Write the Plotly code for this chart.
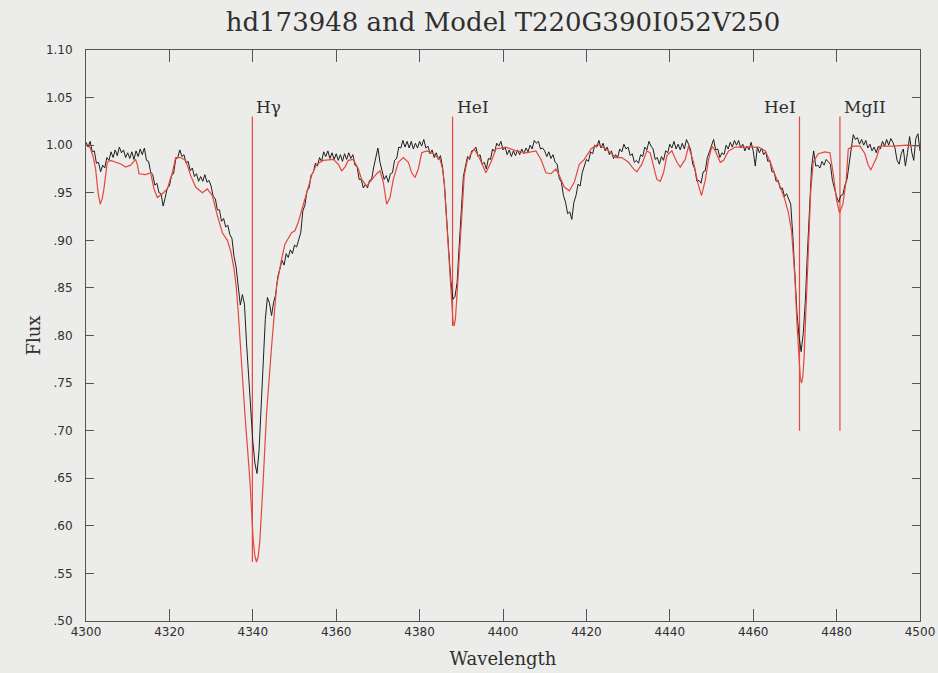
import numpy as np
import plotly.graph_objects as go

# ---------------- data ----------------
# observed spectrum, sampled every 0.5 A from 4300 to 4500
obs_start = 4300.0
obs_step = 0.5
obs_flux = [
    1.003, 0.998, 1.004, 0.993, 0.994, 0.981, 0.982, 0.972, 0.979, 0.976, 0.987, 0.984, 0.993, 0.987, 0.995, 0.989, 0.998, 0.992, 0.995, 0.987,
    0.992, 0.986, 0.993, 0.985, 0.994, 0.988, 0.996, 0.990, 0.997, 0.984, 0.983, 0.972, 0.969, 0.958, 0.960, 0.950, 0.949, 0.936, 0.945, 0.955,
    0.957, 0.968, 0.970, 0.985, 0.987, 0.995, 0.988, 0.990, 0.981, 0.983, 0.973, 0.976, 0.967, 0.970, 0.962, 0.967, 0.962, 0.969, 0.961, 0.963,
    0.957, 0.946, 0.944, 0.932, 0.932, 0.920, 0.923, 0.914, 0.916, 0.906, 0.902, 0.883, 0.872, 0.849, 0.832, 0.843, 0.833, 0.792, 0.753, 0.723,
    0.689, 0.666, 0.655, 0.679, 0.724, 0.772, 0.817, 0.840, 0.834, 0.821, 0.835, 0.843, 0.862, 0.870, 0.879, 0.874, 0.886, 0.882, 0.890, 0.886,
    0.895, 0.893, 0.902, 0.908, 0.931, 0.937, 0.952, 0.955, 0.969, 0.971, 0.981, 0.978, 0.987, 0.983, 0.993, 0.988, 0.994, 0.986, 0.992, 0.985,
    0.991, 0.984, 0.990, 0.983, 0.991, 0.985, 0.992, 0.986, 0.990, 0.979, 0.978, 0.964, 0.964, 0.955, 0.959, 0.955, 0.963, 0.964, 0.977, 0.986,
    0.997, 0.982, 0.974, 0.964, 0.968, 0.961, 0.970, 0.971, 0.984, 0.986, 0.998, 0.997, 1.005, 0.998, 1.004, 0.997, 1.004, 0.996, 1.002, 0.997,
    1.004, 0.999, 1.006, 0.997, 0.999, 0.991, 0.995, 0.987, 0.992, 0.985, 0.989, 0.977, 0.956, 0.918, 0.888, 0.858, 0.838, 0.841, 0.856, 0.895,
    0.933, 0.967, 0.978, 0.988, 0.985, 0.994, 0.995, 0.998, 0.988, 0.990, 0.980, 0.982, 0.975, 0.986, 0.985, 0.996, 0.993, 1.002, 0.999, 1.004,
    0.995, 0.998, 0.990, 0.995, 0.988, 0.994, 0.989, 0.995, 0.990, 0.996, 0.991, 0.997, 0.993, 1.000, 0.996, 1.005, 1.002, 1.004, 0.996, 0.997,
    0.994, 0.988, 0.993, 0.986, 0.990, 0.982, 0.980, 0.965, 0.961, 0.947, 0.940, 0.928, 0.930, 0.922, 0.940, 0.947, 0.959, 0.957, 0.971, 0.978,
    0.985, 0.983, 0.993, 0.991, 1.000, 0.998, 1.005, 0.997, 1.002, 0.994, 0.998, 0.990, 0.994, 0.986, 0.990, 0.987, 0.996, 0.993, 1.001, 0.996,
    0.998, 0.989, 0.991, 0.982, 0.984, 0.981, 0.990, 0.988, 0.998, 0.995, 1.004, 0.999, 0.996, 0.985, 0.987, 0.980, 0.988, 0.984, 0.994, 0.992,
    1.001, 0.997, 1.004, 0.996, 1.001, 0.995, 1.002, 0.996, 1.006, 1.001, 0.995, 0.980, 0.975, 0.962, 0.963, 0.960, 0.972, 0.973, 0.987, 0.993,
    0.999, 1.006, 0.995, 0.996, 0.987, 0.992, 0.990, 1.000, 0.996, 1.003, 0.998, 1.005, 1.000, 1.005, 0.997, 1.001, 0.994, 0.999, 0.995, 1.003,
    0.994, 0.978, 0.998, 0.992, 0.997, 0.990, 0.993, 0.983, 0.984, 0.972, 0.972, 0.962, 0.963, 0.954, 0.955, 0.946, 0.949, 0.944, 0.938, 0.905,
    0.866, 0.823, 0.799, 0.783, 0.802, 0.836, 0.887, 0.933, 0.977, 0.994, 0.978, 0.979, 0.976, 0.983, 0.979, 0.985, 0.982, 0.980, 0.963, 0.953,
    0.946, 0.940, 0.947, 0.948, 0.958, 0.964, 0.982, 0.996, 1.011, 1.006, 1.008, 1.001, 1.006, 1.000, 1.005, 0.997, 1.001, 0.994, 0.998, 0.992,
    0.999, 0.996, 1.004, 0.999, 1.006, 1.000, 1.007, 1.003, 0.997, 0.984, 0.980, 0.991, 0.996, 0.978, 0.992, 1.009, 0.993, 0.984, 1.007, 1.012, 0.994,
]

# model spectrum
model_wl = [
    4300.0, 4300.5, 4301.1, 4301.7, 4302.3, 4302.9, 4303.4, 4303.9, 4304.3, 4304.7,
    4305.1, 4305.9, 4306.7, 4307.5, 4308.5, 4309.5, 4310.7, 4311.9, 4312.4, 4312.7,
    4314.3, 4315.5, 4316.3, 4317.1, 4318.3, 4319.5, 4320.7, 4321.5, 4322.7, 4323.9,
    4325.1, 4326.3, 4327.9, 4329.1, 4330.3, 4331.5, 4332.7, 4333.9, 4334.7, 4335.5,
    4336.0, 4336.5, 4336.9, 4338.1, 4339.3, 4340.1, 4340.5, 4340.9, 4341.3, 4341.7,
    4342.5, 4343.3, 4344.5, 4345.3, 4345.7, 4346.9, 4347.7, 4349.3, 4350.1, 4350.9,
    4351.7, 4352.9, 4354.1, 4355.3, 4356.9, 4359.3, 4360.5, 4361.3, 4362.1, 4362.9,
    4364.1, 4365.3, 4366.1, 4367.3, 4368.5, 4369.7, 4370.5, 4371.3, 4372.1, 4372.9,
    4373.7, 4374.9, 4376.1, 4377.3, 4378.1, 4378.9, 4379.7, 4380.5, 4381.7, 4383.3,
    4384.9, 4385.5, 4385.9, 4386.7, 4387.5, 4388.0, 4388.3, 4388.6, 4389.1, 4389.9,
    4390.7, 4391.5, 4393.1, 4394.3, 4395.9, 4397.1, 4398.3, 4400.7, 4403.1, 4405.5,
    4407.9, 4409.1, 4410.3, 4411.5, 4412.7, 4413.5, 4414.7, 4415.9, 4417.1, 4418.3,
    4419.5, 4421.1, 4422.7, 4424.7, 4427.1, 4428.5, 4430.1, 4431.3, 4432.1, 4433.3,
    4434.5, 4435.3, 4436.1, 4436.9, 4437.7, 4438.5, 4439.3, 4440.5, 4441.7, 4442.5,
    4443.7, 4444.5, 4445.7, 4446.8, 4447.6, 4448.5, 4449.3, 4450.1, 4450.9, 4452.1,
    4452.9, 4454.1, 4455.7, 4458.1, 4461.3, 4462.9, 4464.1, 4465.3, 4466.5, 4467.5,
    4468.4, 4469.2, 4470.0, 4470.5, 4471.0, 4471.3, 4471.6, 4471.9, 4472.2, 4472.7,
    4473.2, 4473.8, 4474.4, 4475.6, 4477.2, 4478.4, 4479.2, 4480.0, 4480.7, 4481.5,
    4482.3, 4482.8, 4484.0, 4485.6, 4486.8, 4487.5, 4488.2, 4488.9, 4489.6, 4490.4,
    4493.6, 4496.8, 4500.0,
]
model_flux = [
    1.000, 1.001, 0.996, 0.988, 0.975, 0.950, 0.938, 0.944, 0.954, 0.970,
    0.982, 0.984, 0.983, 0.982, 0.980, 0.977, 0.979, 0.985, 0.978, 0.970,
    0.969, 0.971, 0.954, 0.945, 0.949, 0.954, 0.971, 0.987, 0.987, 0.984,
    0.968, 0.956, 0.950, 0.954, 0.947, 0.926, 0.908, 0.900, 0.889, 0.870,
    0.852, 0.825, 0.795, 0.718, 0.648, 0.585, 0.568, 0.562, 0.568, 0.585,
    0.648, 0.718, 0.788, 0.830, 0.852, 0.880, 0.896, 0.908, 0.910, 0.919,
    0.931, 0.950, 0.968, 0.980, 0.984, 0.985, 0.980, 0.973, 0.977, 0.984,
    0.985, 0.975, 0.964, 0.957, 0.964, 0.970, 0.973, 0.961, 0.938, 0.945,
    0.964, 0.982, 0.987, 0.982, 0.971, 0.966, 0.975, 0.992, 0.994, 0.991,
    0.985, 0.975, 0.961, 0.905, 0.852, 0.815, 0.810, 0.818, 0.852, 0.915,
    0.968, 0.985, 0.996, 0.987, 0.971, 0.982, 0.996, 0.998, 0.994, 0.992,
    0.994, 0.985, 0.971, 0.970, 0.975, 0.968, 0.956, 0.952, 0.961, 0.980,
    0.985, 0.996, 1.001, 0.996, 0.987, 0.987, 0.982, 0.975, 0.972, 0.980,
    0.994, 0.992, 0.978, 0.964, 0.962, 0.971, 0.989, 0.994, 0.982, 0.977,
    0.985, 0.999, 0.982, 0.959, 0.947, 0.963, 0.985, 0.999, 0.994, 0.982,
    0.984, 0.994, 0.998, 0.998, 0.998, 0.994, 0.982, 0.968, 0.956, 0.944,
    0.930, 0.910, 0.861, 0.812, 0.777, 0.755, 0.750, 0.757, 0.777, 0.830,
    0.900, 0.952, 0.982, 0.991, 0.993, 0.992, 0.970, 0.942, 0.929, 0.938,
    0.963, 0.996, 0.999, 0.999, 0.991, 0.980, 0.974, 0.980, 0.987, 0.999,
    0.999, 1.000, 0.999,
]

# identified lines
line_names = ["H\u03b3", "HeI", "HeI", "MgII"]
line_wl = [4339.9, 4387.9, 4471.1, 4480.8]
line_top = [1.03, 1.03, 1.03, 1.03]
line_bottom = [0.562, 0.81, 0.70, 0.70]
label_side = ["right", "right", "left", "right"]

# axis ticks
x_ticks = [4300, 4320, 4340, 4360, 4380, 4400, 4420, 4440, 4460, 4480, 4500]
y_ticks = [0.50, 0.55, 0.60, 0.65, 0.70, 0.75, 0.80, 0.85, 0.90, 0.95, 1.00, 1.05, 1.10]
y_tick_text = [".50", ".55", ".60", ".65", ".70", ".75", ".80", ".85", ".90", ".95", "1.00", "1.05", "1.10"]

title_text = "hd173948 and Model T220G390I052V250"

# ---------------- figure ----------------
obs_wl = obs_start + obs_step * np.arange(len(obs_flux))

RED = "#e5473d"
BG = "#ececea"
SERIF = "DejaVu Serif"
INK = "#2f2f2f"

fig = go.Figure()

for wl, top, bot in zip(line_wl, line_top, line_bottom):
    fig.add_trace(go.Scatter(x=[wl, wl], y=[bot, top], mode="lines",
                             line=dict(color=RED, width=1.2), showlegend=False, hoverinfo="skip"))

fig.add_trace(go.Scatter(x=obs_wl, y=obs_flux, mode="lines",
                         line=dict(color="#1e1e1e", width=1), showlegend=False, name="hd173948"))
fig.add_trace(go.Scatter(x=model_wl, y=model_flux, mode="lines",
                         line=dict(color=RED, width=1.2), showlegend=False, name="Model"))

for name, wl, top, side in zip(line_names, line_wl, line_top, label_side):
    fig.add_annotation(x=wl, y=top, text=name, showarrow=False,
                       xanchor="left" if side == "right" else "right", yanchor="bottom",
                       xshift=2 if side == "right" else -1, yshift=-2,
                       font=dict(family=SERIF, size=17, color=INK))

axis_common = dict(showline=True, linecolor="#555555", linewidth=1, mirror="ticks",
                   ticks="inside", tickcolor="#555555", showgrid=False, zeroline=False,
                   automargin=False)

fig.update_xaxes(range=[4300, 4500], tickvals=x_ticks, ticklen=12,
                 tickfont=dict(family="DejaVu Sans", size=12, color=INK),
                 title=dict(text="Wavelength", font=dict(family=SERIF, size=18, color=INK), standoff=13),
                 **axis_common)
fig.update_yaxes(range=[0.5, 1.1], tickvals=y_ticks, ticktext=y_tick_text, ticklen=8,
                 ticklabelstandoff=10,
                 tickfont=dict(family="DejaVu Sans", size=12, color=INK),
                 title=dict(text="Flux", font=dict(family=SERIF, size=18, color=INK), standoff=0),
                 **axis_common)

fig.update_layout(
    width=938, height=673, autosize=False,
    margin=dict(l=86, r=18, t=50, b=52, autoexpand=False),
    paper_bgcolor=BG, plot_bgcolor=BG,
    title=dict(text=title_text, x=0.5, xref="paper", y=1 - 22 / 673, yref="container",
               xanchor="center", yanchor="middle", automargin=False,
               font=dict(family=SERIF, size=26, color=INK)),
    showlegend=False,
)

fig.write_html("out.html", config={"displayModeBar": False},
               post_script="document.body.style.margin='0';")
